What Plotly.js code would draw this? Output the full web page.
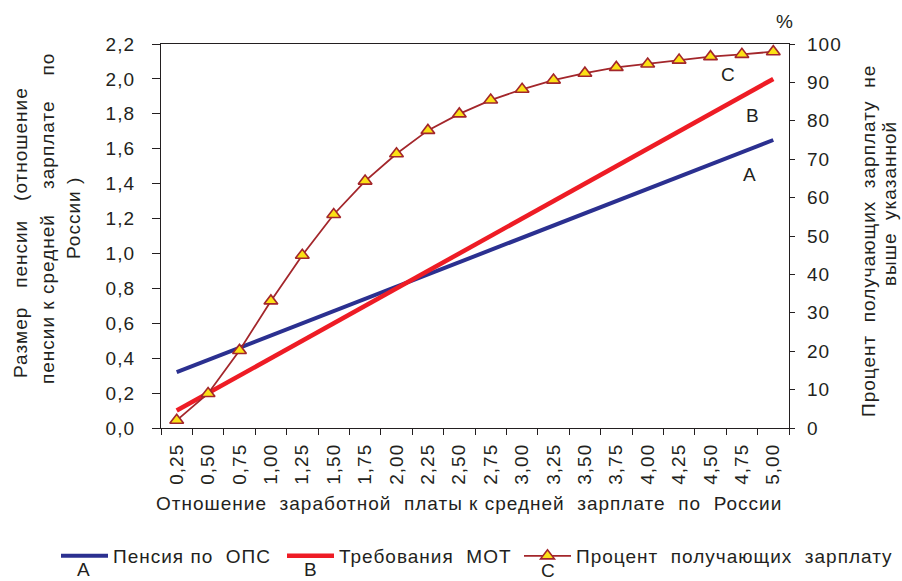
<!DOCTYPE html>
<html>
<head>
<meta charset="utf-8">
<script src="https://cdn.plot.ly/plotly-3.0.1.min.js"></script>
<style>
  html, body { margin: 0; padding: 0; background: #ffffff; }
  #chart { width: 902px; height: 581px; }
  svg text { letter-spacing: 1px; }
</style>
</head>
<body>
<div id="chart"></div>
<script>
// ---- data ----
const categories = ['0,25','0,50','0,75','1,00','1,25','1,50','1,75','2,00','2,25','2,50',
                    '2,75','3,00','3,25','3,50','3,75','4,00','4,25','4,50','4,75','5,00'];
// A: pension (ratio to average wage)
const pensionOPS = [0.32,0.39,0.46,0.53,0.60,0.67,0.74,0.81,0.88,0.95,
                    1.02,1.09,1.16,1.23,1.30,1.37,1.44,1.51,1.58,1.65];
// B: ILO requirement (ratio to average wage)
const motRequirement = [0.10,0.20,0.30,0.40,0.50,0.60,0.70,0.80,0.90,1.00,
                        1.10,1.20,1.30,1.40,1.50,1.60,1.70,1.80,1.90,2.00];
// C: percent of people earning not more than given wage
const percentBelow = [2.0,9.0,20.2,33.1,45.0,55.6,64.3,71.4,77.5,81.8,
                      85.4,88.2,90.6,92.4,93.9,94.8,95.8,96.7,97.3,98.0];

const seriesNames = ['Пенсия по\u00a0 ОПС',
                     'Требования\u00a0 МОТ',
                     'Процент\u00a0 получающих\u00a0 зарплату'];

const TXT = '#231f20';
const FONT = 'Liberation Sans, Arial, Helvetica, sans-serif';

const traces = [
  { x: categories, y: pensionOPS, name: seriesNames[0], type: 'scatter', mode: 'lines',
    line: { color: '#2b3090', width: 4 }, yaxis: 'y', legend: 'legend' },
  { x: categories, y: motRequirement, name: seriesNames[1], type: 'scatter', mode: 'lines',
    line: { color: '#ee1c25', width: 4.5 }, yaxis: 'y', legend: 'legend2' },
  { x: categories, y: percentBelow, name: seriesNames[2], type: 'scatter', mode: 'lines+markers',
    line: { color: '#a3262b', width: 1.8 },
    marker: { symbol: 'triangle-up', size: 12, color: '#fbe116', line: { color: '#a3262b', width: 1.6 } },
    yaxis: 'y2', legend: 'legend3' }
];

const W = 902, H = 581, L = 161, R = 789, T = 44, B = 428;
const px = x => (x - L) / (R - L);
const py = y => (B - y) / (B - T);

const ann = (text, x, y, opts) => Object.assign({
  text: text, xref: 'paper', yref: 'paper', x: px(x), y: py(y),
  xanchor: 'center', yanchor: 'middle', showarrow: false,
  font: { family: FONT, size: 19, color: TXT }
}, opts || {});

const legendAt = (leftPx) => ({
  orientation: 'h', xref: 'container', yref: 'container',
  x: leftPx / W, xanchor: 'left', y: 1 - 556 / H, yanchor: 'middle',
  font: { family: FONT, size: 19, color: TXT }, itemwidth: 47,
  bgcolor: 'rgba(0,0,0,0)', itemclick: false
});

const layout = {
  width: W, height: H,
  margin: { l: L, r: W - R, t: T, b: H - B, pad: 0, autoexpand: false },
  paper_bgcolor: '#ffffff', plot_bgcolor: '#ffffff',
  separators: ', ',
  font: { family: FONT, size: 19, color: TXT },
  showlegend: true,
  legend: legendAt(56),
  legend2: legendAt(282),
  legend3: legendAt(519),
  xaxis: {
    type: 'category', range: [-0.5, 19.5], autorange: false,
    tickangle: -90, ticks: 'outside', ticklen: 6, tickwidth: 1,
    tickcolor: TXT, tickson: 'boundaries', showline: true, linecolor: TXT, linewidth: 1.2,
    mirror: true, showgrid: false, zeroline: false,
    tickfont: { family: FONT, size: 19, color: TXT }, ticklabelstandoff: 7
  },
  // inner half of the crossing tick marks on the category axis
  xaxis2: {
    overlaying: 'x', anchor: 'y', side: 'bottom', type: 'linear',
    range: [-0.5, 19.5], autorange: false, tick0: -0.5, dtick: 1,
    ticks: 'inside', ticklen: 5, tickwidth: 1, tickcolor: TXT,
    showticklabels: false, showline: false, showgrid: false, zeroline: false
  },
  yaxis: {
    range: [0, 2.2], tick0: 0, dtick: 0.2, tickformat: '.1f', ticks: 'outside', ticklen: 8,
    tickcolor: TXT, showline: true, linecolor: TXT, linewidth: 1.2, showgrid: false,
    zeroline: false, tickfont: { family: FONT, size: 19, color: TXT }, ticklabelstandoff: 13
  },
  yaxis2: {
    overlaying: 'y', side: 'right', range: [0, 100], tick0: 0, dtick: 10, ticks: 'outside',
    ticklen: 5, tickcolor: TXT, showline: true, linecolor: TXT, linewidth: 1.2, showgrid: false,
    zeroline: false, tickfont: { family: FONT, size: 19, color: TXT }, ticklabelstandoff: 8
  },
  // inner half of the crossing tick marks on the percent axis
  yaxis3: {
    overlaying: 'y', side: 'right', anchor: 'x', type: 'linear',
    range: [0, 100], autorange: false, tick0: 0, dtick: 10,
    ticks: 'inside', ticklen: 4, tickcolor: TXT,
    showticklabels: false, showline: false, showgrid: false, zeroline: false
  },
  annotations: [
    // x axis title
    ann('Отношение\u00a0 заработной\u00a0 платы к средней\u00a0 зарплате\u00a0 по\u00a0 России', 469, 503),
    // left axis title (three lines)
    ann('Размер\u00a0\u00a0 пенсии\u00a0\u00a0 (отношение', 20, 233, { textangle: -90 }),
    ann('пенсии к средней\u00a0\u00a0\u00a0 зарплате\u00a0\u00a0\u00a0 по', 47, 219, { textangle: -90 }),
    ann('России )', 73, 218, { textangle: -90 }),
    // right axis title (two lines)
    ann('Процент\u00a0 получающих\u00a0 зарплату\u00a0 не', 869, 241, { textangle: -90 }),
    ann('выше\u00a0 указанной', 889, 204, { textangle: -90 }),
    // percent sign
    ann('%', 785, 22),
    // series labels on the chart
    ann('C', 728, 74),
    ann('B', 753, 115),
    ann('A', 750, 174),
    // labels under legend symbols
    ann('A', 84, 569),
    ann('B', 311, 569),
    ann('C', 548, 570)
  ]
};

Plotly.newPlot('chart', traces, layout, { staticPlot: true, displayModeBar: false });
</script>
</body>
</html>
